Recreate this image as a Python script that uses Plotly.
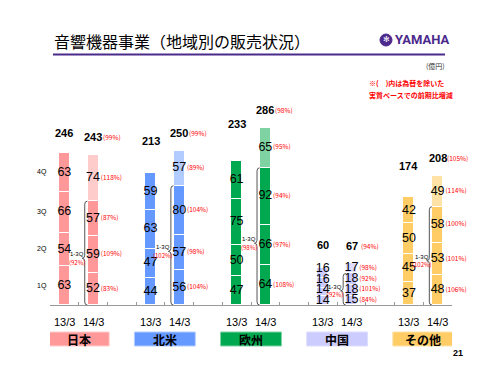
import plotly.graph_objects as go
import numpy as np

# ---------------- data ----------------
regions = ["日本", "北米", "欧州", "中国", "その他"]
periods = ["13/3", "14/3"]
quarters = ["1Q", "2Q", "3Q", "4Q"]

fy13_q1 = [63, 44, 47, 14, 37]
fy13_q2 = [54, 47, 50, 14, 45]
fy13_q3 = [66, 63, 75, 16, 50]
fy13_q4 = [63, 59, 61, 16, 42]
fy14_q1 = [52, 56, 64, 15, 48]
fy14_q2 = [59, 57, 66, 18, 53]
fy14_q3 = [57, 80, 92, 18, 58]
fy14_q4 = [74, 57, 65, 17, 49]
fy13_total = [246, 213, 233, 60, 174]
fy14_total = [243, 250, 286, 67, 208]

pct_total = ["(99%)", "(99%)", "(98%)", "(94%)", "(105%)"]
pct_q1 = ["(83%)", "(104%)", "(108%)", "(84%)", "(106%)"]
pct_q2 = ["(109%)", "(98%)", "(97%)", "(101%)", "(101%)"]
pct_q3 = ["(87%)", "(104%)", "(94%)", "(92%)", "(100%)"]
pct_q4 = ["(118%)", "(89%)", "(95%)", "(98%)", "(114%)"]
pct_1to3 = ["(92%)", "(102%)", "(98%)", "(92%)", "(102%)"]

# ---------------- styles ----------------
base_col = ["#FF9999", "#6699FF", "#00A850", "#CCCCFF", "#FFCC66"]
light_col = ["#FFCCCC", "#B3CCFF", "#7FD3A3", "#DDDDFF", "#FFE3A6"]
NUMF = "Liberation Sans, Arial, sans-serif"
JPF = "Noto Sans CJK JP, sans-serif"
BW = 0.38
MIN_GAP = 17  # minimum label spacing (data units) for small segments

fy13 = [fy13_q1, fy13_q2, fy13_q3, fy13_q4]
fy14 = [fy14_q1, fy14_q2, fy14_q3, fy14_q4]
pct14 = [pct_q1, pct_q2, pct_q3, pct_q4]

x13 = [3 * i for i in range(len(regions))]
x14 = [3 * i + 1 for i in range(len(regions))]


def label_positions(series):
    arr = np.array(series, dtype=float)  # 4 x regions
    cum = np.cumsum(arr, axis=0)
    centers = cum - arr / 2.0
    pos = centers.copy()
    for r in range(arr.shape[1]):
        for q in range(1, arr.shape[0]):
            pos[q, r] = max(centers[q, r], pos[q - 1, r] + MIN_GAP)
    return cum, centers, pos


fig = go.Figure()

# stacked bars
for qi in range(4):
    xs = x13 + x14
    ys = fy13[qi] + fy14[qi]
    cols = base_col + (light_col if qi == 3 else base_col)
    fig.add_trace(go.Bar(
        x=xs, y=ys, width=BW, marker=dict(color=cols, line=dict(color="white", width=1)),
        showlegend=False, hoverinfo="skip"))

# segment value labels
for series, xs in ((fy13, x13), (fy14, x14)):
    _, _, pos = label_positions(series)
    for qi in range(4):
        fig.add_trace(go.Scatter(
            x=xs, y=pos[qi], mode="text", text=[str(v) for v in series[qi]],
            textposition="middle center", textfont=dict(family=NUMF, size=12.5, color="black"),
            showlegend=False, hoverinfo="skip", cliponaxis=False))

# percentage labels right of 14/3 bars
cum14, cent14, pos14 = label_positions(fy14)
for qi in range(4):
    fig.add_trace(go.Scatter(
        x=[x + BW / 2 + 0.08 for x in x14], y=pos14[qi], mode="text", text=pct14[qi],
        textposition="middle right", textfont=dict(family=JPF, size=6.5, color="#FF0000"),
        showlegend=False, hoverinfo="skip", cliponaxis=False))

annotations = []
shapes = []

# totals
for i in range(len(regions)):
    annotations.append(dict(x=x13[i], y=(fy13_total[i] + fy14_total[i]) / 2.0, yshift=21,
                            xanchor="center", yanchor="middle",
                            text=f"<b>{fy13_total[i]}</b>", showarrow=False,
                            font=dict(family=NUMF, size=11, color="black")))
    annotations.append(dict(x=x14[i], y=fy14_total[i], yshift=18,
                            xanchor="center", yanchor="middle",
                            text=f"<b>{fy14_total[i]}</b>", showarrow=False,
                            font=dict(family=NUMF, size=11, color="black")))
    annotations.append(dict(x=x14[i] + BW / 2 + 0.08, y=fy14_total[i], yshift=18,
                            xanchor="left", yanchor="middle",
                            text=pct_total[i], showarrow=False,
                            font=dict(family=JPF, size=6.5, color="#FF0000")))

# 1-3Q braces and labels
for i in range(len(regions)):
    top = cum14[2][i]
    tip = top * 0.45
    xb = x14[i] - BW / 2 - 0.1
    w = 0.09
    d = 5
    path = (f"M {xb + w},{top} Q {xb},{top} {xb},{top - d} "
            f"L {xb},{tip + d} Q {xb},{tip} {xb - w},{tip} "
            f"Q {xb},{tip} {xb},{tip - d} L {xb},{d} Q {xb},0 {xb + w},0")
    shapes.append(dict(type="path", path=path, xref="x", yref="y",
                       line=dict(color="#555555", width=1)))
    annotations.append(dict(x=x14[i] - 0.56, y=tip, text="1-3Q", showarrow=False, yshift=4,
                            xanchor="center", yanchor="middle",
                            font=dict(family=NUMF, size=6, color="black")))
    annotations.append(dict(x=x14[i] - 0.56, y=tip, text=pct_1to3[i], showarrow=False, yshift=-4,
                            xanchor="center", yanchor="middle",
                            font=dict(family=JPF, size=6, color="#FF0000")))

# quarter labels on the left (aligned with the first bar's segments)
_, cent13, _ = label_positions(fy13)
for qi in range(4):
    annotations.append(dict(x=-0.5, y=cent13[qi][0], xanchor="right", yanchor="middle", xshift=-1,
                            text=quarters[qi], showarrow=False,
                            font=dict(family=NUMF, size=7, color="black")))

# period labels
for i in range(len(regions)):
    for xp, lab in ((x13[i], periods[0]), (x14[i], periods[1])):
        annotations.append(dict(x=xp, y=0, yshift=-17, text=lab, showarrow=False,
                                xanchor="center", yanchor="middle",
                                font=dict(family=NUMF, size=11, color="black")))

W, H = 500.0, 375.0
pl, pr, pt, pb = 50, 48, 85, 70
pw, ph = W - pl - pr, H - pt - pb


def px(xp):
    return (xp - pl) / pw


def py(yp):
    return (H - pb - yp) / ph


# region boxes
for i in range(len(regions)):
    xc = (x13[i] + x14[i]) / 2.0
    shapes.append(dict(type="rect", xref="x", yref="paper", x0=xc - 1.06, x1=xc + 1.06,
                       y0=py(346), y1=py(332), fillcolor=base_col[i],
                       line=dict(color=light_col[i], width=1), layer="below"))
    annotations.append(dict(x=xc, y=py(339), yref="paper", text=f"<b>{regions[i]}</b>",
                            xanchor="center", yanchor="middle",
                            showarrow=False, font=dict(family=JPF, size=12, color="black")))

fig.update_layout(
    width=500, height=375,
    margin=dict(l=pl, r=pr, t=pt, b=pb),
    paper_bgcolor="white", plot_bgcolor="white",
    barmode="stack", bargap=0,
    showlegend=False,
    xaxis=dict(range=[-0.5, 13.5], showgrid=False, zeroline=False, showticklabels=False,
               showline=True, linecolor="#999999", linewidth=1,
               tickmode="array", tickvals=[k - 0.5 for k in range(15)],
               ticks="inside", ticklen=3, tickcolor="#999999", fixedrange=True),
    yaxis=dict(range=[0, 356], visible=False, fixedrange=True),
    annotations=annotations,
    shapes=shapes,
)

# page-level decorations
fig.add_annotation(x=px(52), y=py(41), xref="paper", yref="paper", xanchor="left", yanchor="middle",
                   text="音響機器事業（地域別の販売状況）", showarrow=False,
                   font=dict(family=JPF, size=16, color="black"))
fig.add_shape(type="line", xref="paper", yref="paper", x0=px(53), x1=px(445), y0=py(54.5), y1=py(54.5),
              line=dict(color="#4B2A8C", width=2))
fig.add_shape(type="circle", xref="paper", yref="paper", x0=px(380), x1=px(392), y0=py(46), y1=py(34),
              fillcolor="#4B2A8C", line=dict(color="#4B2A8C", width=1))
fig.add_annotation(x=px(386), y=py(40), xref="paper", yref="paper", xanchor="center", yanchor="middle",
                   text="✻", showarrow=False,
                   font=dict(family="DejaVu Sans", size=8, color="white"))
fig.add_annotation(x=px(393), y=py(40), xref="paper", yref="paper", xanchor="left", yanchor="middle",
                   text="<b>YAMAHA</b>", showarrow=False,
                   font=dict(family="Roboto, Liberation Sans, sans-serif", size=13, color="#4B2A8C"))
fig.add_annotation(x=px(447), y=py(66), xref="paper", yref="paper", xanchor="right", yanchor="middle",
                   text="(億円)", showarrow=False, font=dict(family=JPF, size=7, color="#333333"))
fig.add_annotation(x=px(367), y=py(83), xref="paper", yref="paper", xanchor="left", yanchor="middle",
                   text="<b>※(　)内は為替を除いた</b>", showarrow=False,
                   font=dict(family=JPF, size=7, color="#FF0000"))
fig.add_annotation(x=px(367), y=py(95), xref="paper", yref="paper", xanchor="left", yanchor="middle",
                   text="<b>実質ベースでの前期比増減</b>", showarrow=False,
                   font=dict(family=JPF, size=7, color="#FF0000"))
fig.add_annotation(x=px(465), y=py(353), xref="paper", yref="paper", xanchor="right", yanchor="middle",
                   text="<b>21</b>", showarrow=False,
                   font=dict(family=NUMF, size=9, color="black"))

fig.write_html("out.html", config={"displayModeBar": False},
               post_script="document.body.style.margin='0';")
